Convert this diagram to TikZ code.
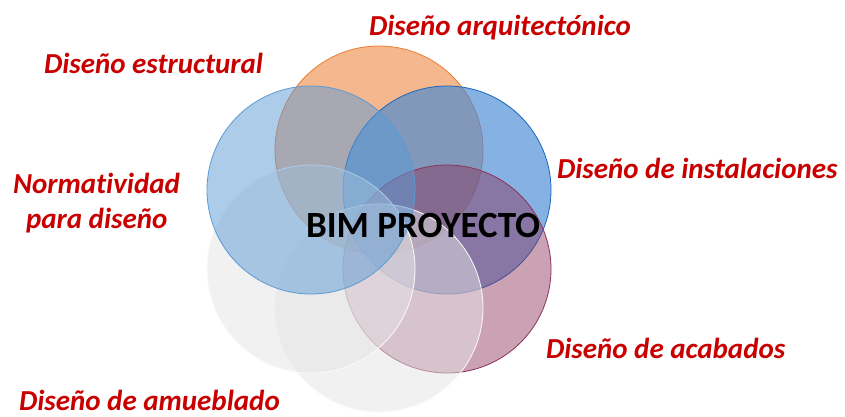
\documentclass[tikz,border=0pt]{standalone}
\usepackage{fontspec}
\setmainfont[Ligatures=NoCommon]{Carlito}
\usepackage{tikz}

\begin{document}
\begin{tikzpicture}[x=1pt,y=-1pt,
	petal/.style={circle, minimum size=208pt, inner sep=0, outer sep=0, line width=0.8pt},
	tag/.style={inner sep=0, outer sep=0, custcol_c8_0_0, anchor=base west, font=\fontsize{29pt}{29pt}\bfseries\itshape\selectfont}]
	\definecolor{custcol_ed_7d_31}{RGB}{237, 125, 49}
	\definecolor{custcol_5b_9b_d5}{RGB}{91, 155, 213}
	\definecolor{custcol_44_88_d4}{RGB}{68, 136, 212}
	\definecolor{custcol_1a_66_c0}{RGB}{26, 102, 192}
	\definecolor{custcol_8c_32_5a}{RGB}{140, 50, 90}
	\definecolor{custcol_e4_e4_e4}{RGB}{228, 228, 228}
	\definecolor{custcol_fa_fa_fa}{RGB}{250, 250, 250}
	\definecolor{custcol_c8_0_0}{RGB}{200, 0, 0}
	\fill [white] (0,0) rectangle (845,416);
	\useasboundingbox (0,0) rectangle (845,416);
	% circles, back to front
	\node [petal, fill=custcol_ed_7d_31, fill opacity=0.55, draw=custcol_ed_7d_31] (arq) at (379,150) {};
	\node [petal, fill=custcol_44_88_d4, fill opacity=0.65, draw=custcol_1a_66_c0] (inst) at (447,190) {};
	\node [petal, fill=custcol_8c_32_5a, fill opacity=0.45, draw=custcol_8c_32_5a] (acab) at (447,269) {};
	\node [petal, fill=custcol_e4_e4_e4, fill opacity=0.5, draw=custcol_fa_fa_fa] (amu) at (379,308) {};
	\node [petal, fill=custcol_e4_e4_e4, fill opacity=0.5, draw=custcol_fa_fa_fa] (norm) at (311,269) {};
	\node [petal, fill=custcol_5b_9b_d5, fill opacity=0.5, draw=custcol_5b_9b_d5] (est) at (311,190) {};
	% labels
	\node [inner sep=0, outer sep=0, black, anchor=base west, font=\fontsize{37pt}{37pt}\bfseries\selectfont] (bim) at (306,237) {BIM PROYECTO};
	\node [tag] (l-arq) at (369,35) {Diseño arquitectónico};
	\node [tag] (l-est) at (44,73) {Diseño estructural};
	\node [tag] (l-norm) at (13,193) {Normatividad};
	\node [tag] (l-norm2) at (26,228) {para diseño};
	\node [tag] (l-inst) at (557,178) {Diseño de instalaciones};
	\node [tag] (l-acab) at (546,358) {Diseño de acabados};
	\node [tag] (l-amu) at (19,410) {Diseño de amueblado};
\end{tikzpicture}
\end{document}
